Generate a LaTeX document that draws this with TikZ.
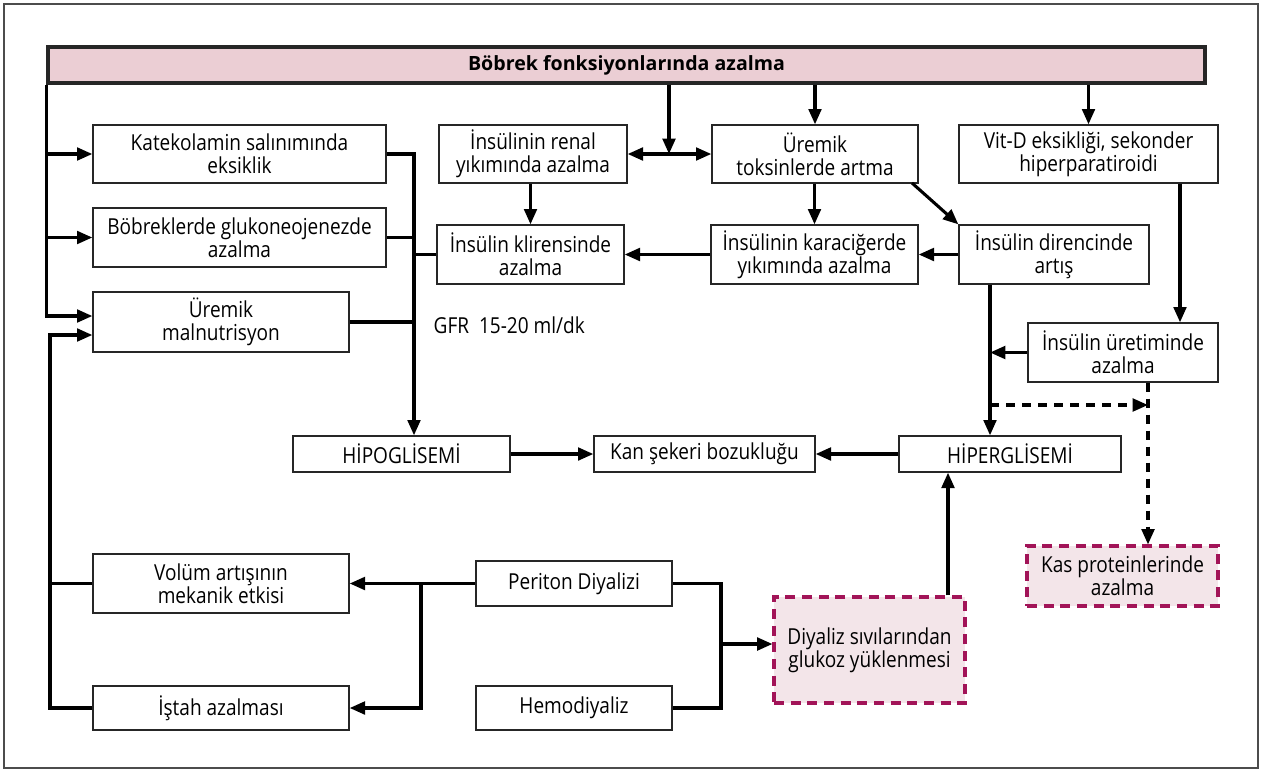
\documentclass[tikz,border=0pt]{standalone}
\usepackage{fontspec}
\setmainfont{Open Sans}
\newfontfamily\boxfont{Open Sans}[FakeStretch=0.865]
\usetikzlibrary{arrows.meta}

\definecolor{barpink}{RGB}{235,206,212}
\definecolor{boxpink}{RGB}{243,229,233}
\definecolor{dashred}{RGB}{162,20,88}

\tikzset{
  sz/.style 2 args={minimum width=#1*0.75pt, minimum height=#2*0.75pt},
  box/.style={draw=black!85, line width=1pt, fill=white, align=center, inner sep=0pt,
    font=\boxfont\fontsize{16.5}{17.25}\selectfont},
  dbox/.style={box, draw=dashred, fill=boxpink, line width=2.3pt, dash pattern=on 7.5pt off 5pt},
  conn/.style={line width=2.3pt},
  arr/.style={conn, -{Triangle[length=11.5pt,width=9.5pt]}},
  darr/.style={conn, {Triangle[length=11.5pt,width=9.5pt]}-{Triangle[length=11.5pt,width=9.5pt]}},
  dsh/.style={dash pattern=on 7pt off 5pt},
}

\begin{document}
\begin{tikzpicture}[x=0.75pt,y=0.75pt,yscale=-1,xscale=1]
        \useasboundingbox (0,0) rectangle (1263,772);
        % frame
        \draw[line width=1pt, black!70] (4,4) rectangle (1258,768);

        % top bar
        \node[box, sz={1157}{36}, fill=barpink, line width=2.3pt, font=\bfseries\fontsize{14.7}{17}\selectfont] (bar) at (626.5,65) {Böbrek fonksiyonlarında azalma};

        % first row
        \node[box, sz={293}{58}] (kat) at (239.5,154) {Katekolamin salınımında\\eksiklik};
        \node[box, sz={188}{58}] (ren) at (533,154) {İnsülinin renal\\yıkımında azalma};
        \node[box, sz={206}{58}] (tox) at (815,154) {Üremik\\toksinlerde artma};
        \node[box, sz={259}{58}] (vitd) at (1088.5,154) {Vit-D eksikliği, sekonder\\hiperparatiroidi};

        % second row
        \node[box, sz={293}{59}] (glu) at (239.5,237.5) {Böbreklerde glukoneojenezde\\azalma};
        \node[box, sz={187}{59}] (kli) at (530.5,254.5) {İnsülin klirensinde\\azalma};
        \node[box, sz={207}{59}] (kar) at (814.5,254.5) {İnsülinin karaciğerde\\yıkımında azalma};
        \node[box, sz={190}{59}] (dir) at (1054,254.5) {İnsülin direncinde\\artış};
        \node[box, sz={256}{60}] (mal) at (221,322) {Üremik\\malnutrisyon};
        \node[box, sz={190}{59}] (ure) at (1123,352.5) {İnsülin üretiminde\\azalma};
        \node[anchor=west, font=\boxfont\fontsize{16.5}{17}\selectfont] (gfr) at (429,325) {GFR\ \ 15-20 ml/dk};

        % glucose row
        \node[box, sz={217}{36}] (hipo) at (401.5,454) {HİPOGLİSEMİ};
        \node[box, sz={221}{36}] (kan) at (704.5,454) {Kan şekeri bozukluğu};
        \node[box, sz={222}{36}] (hiper) at (1010,454) {HİPERGLİSEMİ};

        % dialysis part
        \node[box, sz={256}{59}] (vol) at (221,583.5) {Volüm artışının\\mekanik etkisi};
        \node[box, sz={256}{44}] (ist) at (221,708) {İştah azalması};
        \node[box, sz={196}{45}] (per) at (574,583.5) {Periton Diyalizi};
        \node[box, sz={196}{44}] (hem) at (574,708) {Hemodiyaliz};
        \node[dbox, sz={191}{106}] (diy) at (869.5,650) {Diyaliz sıvılarından\\glukoz yüklenmesi};
        \node[dbox, sz={191}{60}] (kas) at (1122.5,576) {Kas proteinlerinde\\azalma};

        % junctions
        \coordinate (lu) at (48,316);
        \coordinate (ll) at (50,335);
        \coordinate (gb) at (414,154);
        \coordinate (rj) at (669,154);
        \coordinate (td) at (912,183);
        \coordinate (vx) at (1180,0);
        \coordinate (dx) at (990,0);
        \coordinate (dd) at (990,405);
        \coordinate (dv) at (1148,405);
        \coordinate (dy) at (948,0);
        \coordinate (pj) at (421,583.5);
        \coordinate (hj) at (721,644);

        % left side
        \draw[arr] (bar.south west) |- (lu -| mal.west);
        \draw[arr] (kat.west -| lu) -- (kat.west);
        \draw[arr] (glu.west -| lu) -- (glu.west);
        \draw[arr] (ist.west) -| (ll) -- (ll -| mal.west);
        \draw[conn] (vol.west) -- (vol.west -| ll);

        % to hypoglycaemia
        \draw[arr] (kat.east) -| (gb |- hipo.north);
        \draw[conn] (glu.east) -- (glu.east -| gb);
        \draw[conn] (mal.east) -- (mal.east -| gb);
        \draw[conn] (kli.west) -- (kli.west -| gb);

        % insulin part
        \draw[arr] (bar.south -| rj) -- (rj);
        \draw[darr] (ren.east) -- (tox.west);
        \draw[arr] (bar.south -| tox.north) -- (tox.north);
        \draw[arr] (bar.south -| vitd.north) -- (vitd.north);
        \draw[arr] (ren.south -| kli.north) -- (kli.north);
        \draw[arr] (tox.south -| kar.north) -- (kar.north);
        \draw[arr] (td) -- (dir.north west);
        \draw[arr] (kar.west) -- (kli.east);
        \draw[arr] (dir.west) -- (kar.east);
        \draw[arr] (vitd.south -| vx) -- (ure.north -| vx);
        \draw[arr] (dir.south -| dx) -- (hiper.north -| dx);
        \draw[arr] (ure.west) -- (ure.west -| dx);
        \draw[arr, dsh] (dd) -- (dv);
        \draw[arr, dsh] (ure.south -| dv) -- (kas.north -| dv);

        % blood sugar
        \draw[arr] (hipo.east) -- (kan.west);
        \draw[arr] (hiper.west) -- (kan.east);
        \draw[arr] (diy.north -| dy) -- (hiper.south -| dy);

        % dialysis
        \draw[arr] (per.west) -- (vol.east);
        \draw[arr] (pj) |- (ist.east);
        \draw[conn] (per.east) -| (hj);
        \draw[conn] (hem.east) -| (hj);
        \draw[arr] (hj) -- (hj -| diy.west);

\end{tikzpicture}
\end{document}
